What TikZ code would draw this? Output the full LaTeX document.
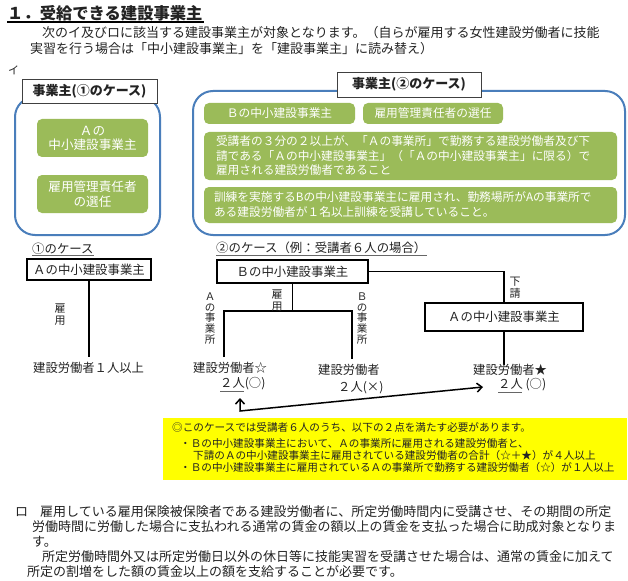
\documentclass[tikz,border=0pt]{standalone}
\usepackage{fontspec}
\setmainfont{Noto Sans CJK JP}
\usetikzlibrary{arrows.meta}
\definecolor{bluec}{RGB}{74,126,187}
\definecolor{greenc}{RGB}{155,187,89}
\definecolor{txtc}{RGB}{35,35,35}
\definecolor{yel}{RGB}{255,255,0}
\newcommand\fsz[2]{\fontsize{#1}{#2}\selectfont}
\begin{document}
\begin{tikzpicture}[x=1pt,y=-1pt,
  txt/.style={anchor=west,inner sep=0pt,text=txtc},
  body/.style={txt,font=\fsz{13}{15}},
  bluebox/.style={draw=bluec,line width=2pt,rounded corners=20pt},
  lblbox/.style={draw=black!75,line width=0.8pt,fill=white,inner sep=0pt,font=\bfseries\fsz{13}{15},text=txtc},
  gbox/.style={fill=greenc,rounded corners=5pt,text=white,inner sep=0pt,align=center},
  ebox/.style={draw=black,line width=1.2pt,fill=white,inner sep=0pt,font=\fsz{12.4}{14},text=txtc},
  conn/.style={draw=black,line width=1.5pt},
  uline/.style={draw=black!60,line width=0.8pt},
  vlab/.style={inner sep=0pt,align=center,text=txtc,font=\fsz{11}{12.5}},
  ytxt/.style={txt,font=\fsz{10.6}{12}},
  mtxt/.style={txt,font=\fsz{12.3}{14}},
  dblarrow/.style={draw=black,line width=1.5pt,{Straight Barb[length=5pt,width=9pt]}-{Straight Barb[length=5pt,width=9pt]}}
]
\useasboundingbox (0,0) rectangle (628,580);
\fill[white] (0,0) rectangle (628,580);

% heading
\node[txt,font=\bfseries\fsz{16.3}{18}] (title) at (7,13) {１．受給できる建設事業主};
\draw[line width=1.3pt,black] (7,22) -- (204,22);
\node[body] (intro1) at (42,33) {次のイ及びロに該当する建設事業主が対象となります。（自らが雇用する女性建設労働者に技能};
\node[body] (intro2) at (30,49) {実習を行う場合は「中小建設事業主」を「建設事業主」に読み替え）};
\node[txt,font=\fsz{11}{13}] (i) at (8,70) {イ};

% left panel
\draw[bluebox] (15,97) rectangle (160,235);
\node[lblbox,minimum width=135pt,minimum height=24pt] (lab1) at (89.5,91) {事業主(①のケース)};
\node[gbox,minimum width=111pt,minimum height=38pt,font=\fsz{12.6}{14}] (g1) at (92.5,138) {Ａの\\中小建設事業主};
\node[gbox,minimum width=111pt,minimum height=38pt,font=\fsz{12.6}{15}] (g2) at (92.5,194) {雇用管理責任者\\の選任};

% right panel
\draw[bluebox] (193,91) rectangle (625,235);
\node[lblbox,minimum width=144pt,minimum height=25pt] (lab2) at (409,84.5) {事業主(②のケース)};
\node[gbox,minimum width=151pt,minimum height=21pt,font=\fsz{11.7}{14}] (g3) at (279.5,113.5) {Ｂの中小建設事業主};
\node[gbox,minimum width=140pt,minimum height=21pt,font=\fsz{11.7}{14}] (g4) at (433,113.5) {雇用管理責任者の選任};
\node[gbox,align=left,text width=389pt,inner xsep=12pt,minimum height=48pt,font=\fsz{11.7}{14.5}] (g5) at (410.5,156) {受講者の３分の２以上が、「Ａの事業所」で勤務する建設労働者及び下\\請である「Ａの中小建設事業主」（「Ａの中小建設事業主」に限る）で\\雇用される建設労働者であること};
\node[gbox,align=left,text width=393pt,inner xsep=10pt,minimum height=36pt,font=\fsz{11.7}{15}] (g6) at (410.5,205) {訓練を実施するBの中小建設事業主に雇用され、勤務場所がAの事業所で\\ある建設労働者が１名以上訓練を受講していること。};

% case 1
\node[txt,font=\fsz{12.4}{14}] (c1) at (32,249) {①のケース};
\draw[uline] (32,255) -- (94,255);
\node[ebox,minimum width=124pt,minimum height=21pt] (a1) at (89,269.5) {Ａの中小建設事業主};
\node[mtxt] (w1) at (33,368) {建設労働者１人以上};
\coordinate (w1top) at (89,357);
\draw[conn] (a1.south) -- (w1top);
\node[vlab] (koyo1) at (60,314.5) {雇\\用};

% case 2
\node[txt,font=\fsz{12.4}{14}] (c2) at (216,248) {②のケース（例：受講者６人の場合）};
\draw[uline] (216,255) -- (427,255);
\node[ebox,minimum width=151pt,minimum height=23pt] (b) at (292.5,271.5) {Ｂの中小建設事業主};
\coordinate (j) at (292.5,311);
\coordinate (jl) at (224,311);
\coordinate (jr) at (352,311);
\coordinate (jlb) at (224,357);
\coordinate (jrb) at (352,359);
\draw[conn] (b.south) -- (j);
\draw[conn] (jlb) -- (jl) -- (jr) -- (jrb);
\node[vlab,font=\fsz{11}{12}] (koyo2) at (277,300.5) {雇\\用};
\node[vlab,font=\fsz{10.5}{10.8}] (ajg) at (210,318.5) {Ａ\\の\\事\\業\\所};
\node[vlab,font=\fsz{10.5}{10.8}] (bjg) at (362,318.5) {Ｂ\\の\\事\\業\\所};
\node[mtxt] (w2) at (193,368) {建設労働者☆};
\node[mtxt] (n2) at (220,384) {２人(○)};
\draw[uline] (220,391) -- (244,391);
\node[mtxt] (w3) at (318,370) {建設労働者};
\node[mtxt] (n3) at (338,388) {２人(×)};

\node[ebox,minimum width=158pt,minimum height=28pt] (a2) at (504,317) {Ａの中小建設事業主};
\draw[conn] (b.east) -| (a2.north);
\node[vlab,font=\fsz{11}{11.5}] (sh) at (515,287.5) {下\\請};
\coordinate (w4top) at (504,365);
\draw[conn] (a2.south) -- (w4top);
\node[mtxt] (w4) at (473,370) {建設労働者★};
\node[mtxt] (n4) at (498,385) {２人 (○)};
\draw[uline] (498,392) -- (522,392);

\coordinate (arrL) at (240,398);
\coordinate (arrC) at (240,411);
\coordinate (arrR) at (483,387);
\draw[dblarrow] (arrL) -- (arrC) -- (arrR);

% yellow note
\node[fill=yel,minimum width=464pt,minimum height=62pt,inner sep=0pt,anchor=north west] (ybox) at (163,418) {};
\node[ytxt] (y1) at (172,427) {◎このケースでは受講者６人のうち、以下の２点を満たす必要があります。};
\node[ytxt] (y2) at (180,443) {・Ｂの中小建設事業主において、Ａの事業所に雇用される建設労働者と、};
\node[ytxt] (y3) at (193,455) {下請のＡの中小建設事業主に雇用されている建設労働者の合計（☆＋★）が４人以上};
\node[ytxt] (y4) at (180,467) {・Ｂの中小建設事業主に雇用されているＡの事業所で勤務する建設労働者（☆）が１人以上};

% bottom text
\node[body] (ro) at (15,512) {ロ};
\node[body] (b1) at (40,512) {雇用している雇用保険被保険者である建設労働者に、所定労働時間内に受講させ、その期間の所定};
\node[body] (b2) at (32,527) {労働時間に労働した場合に支払われる通常の賃金の額以上の賃金を支払った場合に助成対象となりま};
\node[body] (b3) at (32,542) {す。};
\node[body] (b4) at (42,557) {所定労働時間外又は所定労働日以外の休日等に技能実習を受講させた場合は、通常の賃金に加えて};
\node[body] (b5) at (27,572) {所定の割増をした額の賃金以上の額を支給することが必要です。};
\end{tikzpicture}
\end{document}
